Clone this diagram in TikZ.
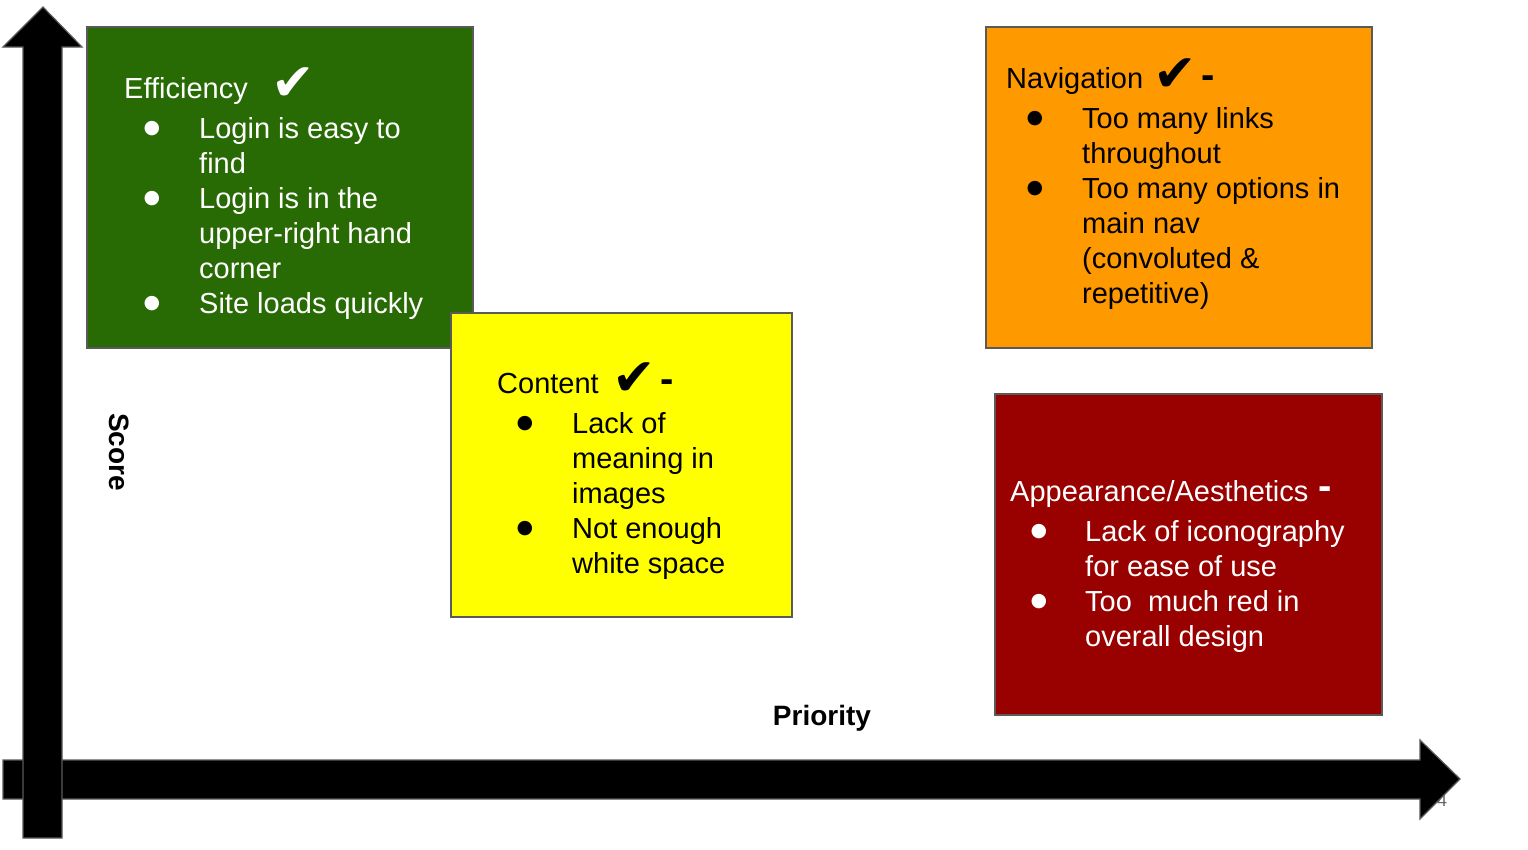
\documentclass[tikz,border=0pt]{standalone}
\usepackage{fontspec}
\setmainfont{Liberation Sans}
\newfontfamily\symfont{DejaVu Sans}
\definecolor{cardgreen}{RGB}{40,106,4}
\definecolor{cardyellow}{RGB}{255,255,0}
\definecolor{cardorange}{RGB}{255,153,0}
\definecolor{cardred}{RGB}{153,0,0}
\definecolor{edgegray}{RGB}{90,90,90}
\tikzset{
  card/.style={draw=edgegray, line width=1.3pt},
  txt/.style={anchor=base west, inner sep=0pt, font=\fontsize{29}{35}\selectfont},
  bul/.style={anchor=center, inner sep=0pt, font=\symfont\fontsize{19}{19}\selectfont},
  chk/.style={anchor=base west, inner sep=0pt, font=\symfont\fontsize{52}{52}\selectfont},
  dsh/.style={anchor=base west, inner sep=0pt, font=\bfseries\fontsize{40}{40}\selectfont},
  axislabel/.style={inner sep=0pt, font=\bfseries\fontsize{28}{34}\selectfont},
  bigarrow/.style={fill=black, draw=edgegray, line width=1.2pt, line join=miter},
}
\begin{document}
\begin{tikzpicture}[x=1pt, y=-1pt]
\useasboundingbox (0,0) rectangle (1528,849);
\fill[white] (0,0) rectangle (1528,849);

% slide number, partly hidden by the axis arrow
\node[inner sep=0pt, text=black!60, font=\fontsize{18}{18}\selectfont] (pagenum) at (1442,800) {4};

% horizontal axis (Priority)
\draw[bigarrow] (3,760) -- (1420,760) -- (1420,740) -- (1460,779) -- (1420,819) -- (1420,799) -- (3,799) -- cycle;
% vertical axis (Score)
\draw[bigarrow] (23,838) -- (23,47) -- (3,47) -- (43,7) -- (82,47) -- (62,47) -- (62,838) -- cycle;

\node[axislabel] (priority) at (822,718) {Priority};
\node[axislabel, rotate=-90] (score) at (119,452) {Score};

% Efficiency card
\draw[card, fill=cardgreen] (87,27) rectangle (473,348);
\begin{scope}[text=white]
\node[txt] (gh) at (124,98) {Efficiency};
\node[chk] (gc) at (271,100) {✔};
\foreach \t [count=\i from 0] in {Login is easy to, find, Login is in the, upper-right hand, corner, Site loads quickly}
  \node[txt] (g\i) at (199,138+35*\i) {\t};
\foreach \k in {0,2,5}
  \node[bul] (gb\k) at (152,129+35*\k) {●};
\end{scope}

% Content card
\draw[card, fill=cardyellow] (451,313) rectangle (792,617);
\node[txt] (yh) at (497,393) {Content};
\node[chk] (yc) at (612,395) {✔};
\node[dsh] (yd) at (660,392) {-};
\foreach \t [count=\i from 0] in {Lack of, meaning in, images, Not enough, white space}
  \node[txt] (y\i) at (572,433+35*\i) {\t};
\foreach \k in {0,3}
  \node[bul] (yb\k) at (525,424+35*\k) {●};

% Navigation card
\draw[card, fill=cardorange] (986,27) rectangle (1372,348);
\node[txt] (oh) at (1006,88) {Navigation};
\node[chk] (oc) at (1153,91) {✔};
\node[dsh] (od) at (1201,88) {-};
\foreach \t [count=\i from 0] in {Too many links, throughout, Too many options in, main nav, {(convoluted \&}, {repetitive)}}
  \node[txt] (o\i) at (1082,128+35*\i) {\t};
\foreach \k in {0,2}
  \node[bul] (ob\k) at (1035,119+35*\k) {●};

% Appearance card
\draw[card, fill=cardred] (995,394) rectangle (1382,715);
\begin{scope}[text=white]
\node[txt] (rh) at (1010,501) {Appearance/Aesthetics};
\node[dsh] (rd) at (1318,499) {-};
\foreach \t [count=\i from 0] in {Lack of iconography, for ease of use, Too\ \ much red in, overall design}
  \node[txt] (r\i) at (1085,541+35*\i) {\t};
\foreach \k in {0,2}
  \node[bul] (rb\k) at (1039,532+35*\k) {●};
\end{scope}
\end{tikzpicture}
\end{document}
